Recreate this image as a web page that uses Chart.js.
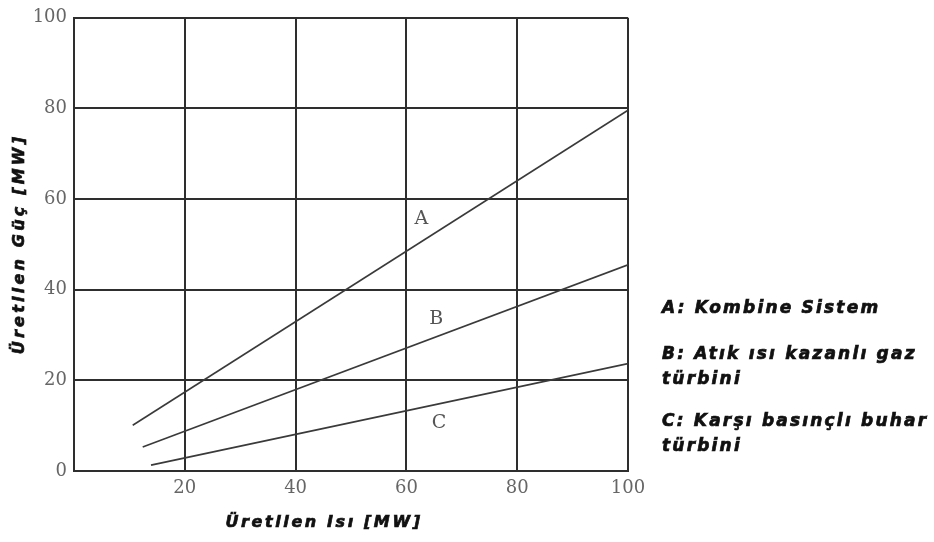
<!DOCTYPE html>
<html>
<head>
<meta charset="utf-8">
<script src="https://cdn.jsdelivr.net/npm/chart.js@4/dist/chart.umd.min.js"></script>
<style>
  html, body { margin: 0; padding: 0; background: #fff; }
  #wrap { width: 934px; height: 542px; position: relative; }
</style>
</head>
<body>
<div id="wrap"><canvas id="chart"></canvas></div>
<script>
// Series values: [heat MW, power MW] end points
const lineA = [{ x: 10.6, y: 10.1 }, { x: 100, y: 79.6 }];
const lineB = [{ x: 12.4, y: 5.3 }, { x: 100, y: 45.5 }];
const lineC = [{ x: 13.9, y: 1.3 }, { x: 100, y: 23.7 }];

// Curve letters placed in data coordinates
const curveLabels = [
    { text: 'A', x: 62.7, y: 55.6 },
    { text: 'B', x: 65.4, y: 33.6 },
    { text: 'C', x: 65.9, y: 10.5 }
];

const legendLines = [
    'A: Kombine Sistem',
    'B: Atık ısı kazanlı gaz',
    'türbini',
    'C: Karşı basınçlı buhar',
    'türbini'
];
const legendY = [309, 355, 380, 422, 447];

const xTitle = 'Üretilen Isı [MW]';
const yTitle = 'Üretilen Güç [MW]';

const tickFont = { family: "'DejaVu Serif', serif", size: 18 };
const gridColor = '#2e2e2e';
const lineColor = '#3a3a3a';

// heavy text: fill plus a thin stroke, with spacing
function heavyText(ctx, text, x, y, spacing) {
    ctx.letterSpacing = spacing + 'px';
    ctx.fillText(text, x, y);
    ctx.strokeText(text, x, y);
}

/**
 * Draws curve letters, axis titles and the side legend text
 */
const annotations = {
    id: 'annotations',
    afterDatasetsDraw(chart) {
        const { ctx, scales } = chart;
        ctx.save();
        ctx.fillStyle = '#555';
        ctx.font = "19px 'DejaVu Serif', serif";
        ctx.textAlign = 'center';
        ctx.textBaseline = 'middle';
        curveLabels.forEach(l => {
            ctx.fillText(l.text, scales.x.getPixelForValue(l.x), scales.y.getPixelForValue(l.y));
        });

        ctx.fillStyle = '#111';
        ctx.strokeStyle = '#111';
        ctx.lineWidth = 0.7;
        ctx.font = "italic bold 16px 'DejaVu Sans', sans-serif";

        // x axis title
        ctx.textAlign = 'center';
        heavyText(ctx, xTitle, 324, 523, 2.6);

        // y axis title, rotated
        ctx.save();
        ctx.translate(20, 244);
        ctx.rotate(-Math.PI / 2);
        heavyText(ctx, yTitle, 0, 0, 3.2);
        ctx.restore();

        // side legend
        ctx.font = "italic bold 17px 'DejaVu Sans', sans-serif";
        ctx.textAlign = 'left';
        legendLines.forEach((t, i) => heavyText(ctx, t, 662, legendY[i], 2.2));
        ctx.restore();
    }
};

const lineStyle = {
    showLine: true,
    borderColor: lineColor,
    borderWidth: 1.6,
    pointRadius: 0,
    fill: false
};

new Chart(document.getElementById('chart'), {
    type: 'scatter',
    data: {
        datasets: [
            { label: 'A', data: lineA, ...lineStyle },
            { label: 'B', data: lineB, ...lineStyle },
            { label: 'C', data: lineC, ...lineStyle }
        ]
    },
    options: {
        responsive: true,
        maintainAspectRatio: false,
        animation: false,
        layout: { padding: { left: 0, top: 16, right: 306, bottom: 0 } },
        plugins: {
            legend: { display: false },
            tooltip: { enabled: false }
        },
        scales: {
            x: {
                type: 'linear',
                min: 0,
                max: 100,
                afterFit(scale) { scale.height = 71; },
                ticks: {
                    stepSize: 20,
                    color: '#666',
                    font: tickFont,
                    padding: 7,
                    callback: v => (v === 0 ? '' : v)
                },
                grid: { color: gridColor, lineWidth: 2, drawTicks: false },
                border: { color: gridColor, width: 2 }
            },
            y: {
                type: 'linear',
                min: 0,
                max: 100,
                afterFit(scale) { scale.width = 74; },
                ticks: {
                    stepSize: 20,
                    color: '#666',
                    font: tickFont,
                    padding: 7
                },
                grid: { color: gridColor, lineWidth: 2, drawTicks: false },
                border: { color: gridColor, width: 2 }
            }
        }
    },
    plugins: [annotations]
});
</script>
</body>
</html>
